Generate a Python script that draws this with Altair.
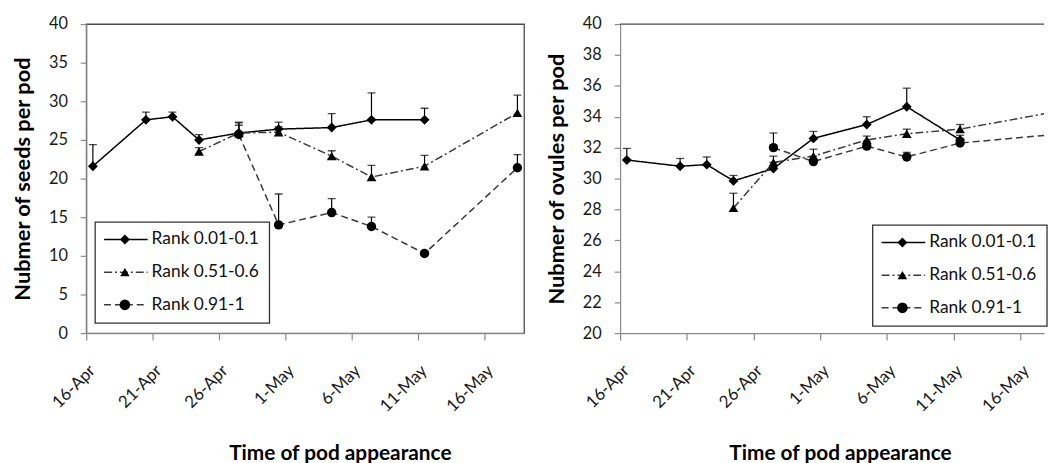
import json
import pandas as pd
import altair as alt

FONT = "Lato"

# ---------------- data ----------------
series_names = ["Rank 0.01-0.1", "Rank 0.51-0.6", "Rank 0.91-1"]
series_shapes = ["diamond", "triangle-up", "circle"]

tick_days = [0, 5, 10, 15, 20, 25, 30]
tick_labels = ["16-Apr", "21-Apr", "26-Apr", "1-May", "6-May", "11-May", "16-May"]

# Number of seeds per pod (days after 16-Apr)
seed_days_1 = [0.5, 4.5, 6.5, 8.5, 11.5, 14.5, 18.5, 21.5, 25.5]
seed_mean_1 = [21.6, 27.6, 28.0, 25.0, 25.9, 26.4, 26.6, 27.6, 27.6]
seed_err_1 = [2.8, 1.0, 0.6, 0.7, 1.4, 0.9, 1.8, 3.5, 1.5]
seed_days_2 = [8.5, 11.5, 14.5, 18.5, 21.5, 25.5, 32.5]
seed_mean_2 = [23.5, 25.9, 26.0, 22.9, 20.2, 21.6, 28.5]
seed_err_2 = [0.5, 1.0, 0.7, 0.7, 1.5, 1.4, 2.3]
seed_days_3 = [11.5, 14.5, 18.5, 21.5, 25.5, 32.5]
seed_mean_3 = [25.7, 14.0, 15.6, 13.8, 10.3, 21.4]
seed_err_3 = [1.5, 4.0, 1.8, 1.2, 0.3, 1.7]

# Number of ovules per pod
ovule_days_1 = [0.5, 4.5, 6.5, 8.5, 11.5, 14.5, 18.5, 21.5, 25.5]
ovule_mean_1 = [31.2, 30.8, 30.9, 29.85, 30.65, 32.6, 33.5, 34.65, 32.5]
ovule_err_1 = [0.75, 0.5, 0.5, 0.35, 0.4, 0.45, 0.5, 1.2, 0.3]
ovule_days_2 = [8.5, 11.5, 14.5, 18.5, 21.5, 25.5, 32.5]
ovule_mean_2 = [28.1, 31.05, 31.45, 32.5, 32.9, 33.2, 34.3]
ovule_err_2 = [0.95, 0.4, 0.45, 0.25, 0.3, 0.3, 0.5]
ovule_days_3 = [11.5, 14.5, 18.5, 21.5, 25.5, 32.5]
ovule_mean_3 = [32.0, 31.1, 32.1, 31.4, 32.3, 32.85]
ovule_err_3 = [0.95, 0.35, 0.3, 0.3, 0.3, 0.4]

seed_y_ticks = [0, 5, 10, 15, 20, 25, 30, 35, 40]
ovule_y_ticks = [20, 22, 24, 26, 28, 30, 32, 34, 36, 38, 40]

# ---------------- styles ----------------
DASHES = [[1, 0], [8, 3, 2, 3], [7, 4]]
LINE_COLORS = ["#000000", "#3a3a3a", "#3a3a3a"]
SIZES = [100, 90, 115]
AXIS_GRAY = "#8a8a8a"
FRAME = "#4a4a4a"


def build_df(days_list, mean_list, err_list):
    frames = []
    for name, d, m, e in zip(series_names, days_list, mean_list, err_list):
        f = pd.DataFrame({"day": d, "value": m, "err": e})
        f["series"] = name
        frames.append(f)
    df = pd.concat(frames, ignore_index=True)
    df["top"] = df["value"] + df["err"]
    return df


seed_df = build_df([seed_days_1, seed_days_2, seed_days_3],
                   [seed_mean_1, seed_mean_2, seed_mean_3],
                   [seed_err_1, seed_err_2, seed_err_3])
ovule_df = build_df([ovule_days_1, ovule_days_2, ovule_days_3],
                    [ovule_mean_1, ovule_mean_2, ovule_mean_3],
                    [ovule_err_1, ovule_err_2, ovule_err_3])

label_expr = "{}[indexof({}, datum.value)]".format(json.dumps(tick_labels), json.dumps(tick_days))


def panel(df, ydomain, yticks, ytitle, width, height, xmax, title_x, lg_left, lg_top, framed):
    xaxis = alt.Axis(values=tick_days, labelExpr=label_expr, labelAngle=315,
                     labelAlign="right", labelBaseline="middle", labelOffset=6,
                     labelPadding=28, tickSize=7, grid=False, labelFontSize=17,
                     title="Time of pod appearance", titleX=title_x, titlePadding=29)
    yaxis = alt.Axis(values=yticks, tickSize=6, labelPadding=13, grid=False,
                     title=ytitle, titlePadding=14)
    xs = alt.Scale(domain=[0, xmax], nice=False, zero=False)
    ys = alt.Scale(domain=ydomain, nice=False, zero=False)
    X = alt.X("day:Q", scale=xs, axis=xaxis)

    base = alt.Chart(df)
    lines = base.mark_line(strokeWidth=1.5, clip=True).encode(
        x=X,
        y=alt.Y("value:Q", scale=ys, axis=yaxis),
        strokeDash=alt.StrokeDash("series:N", scale=alt.Scale(domain=series_names, range=DASHES), legend=None),
        color=alt.Color("series:N", scale=alt.Scale(domain=series_names, range=LINE_COLORS), legend=None),
    )
    bars = base.mark_rule(color="#000000", strokeWidth=1.2, clip=True).encode(
        x=X, y=alt.Y("value:Q", scale=ys, axis=yaxis), y2="top:Q")
    caps = base.mark_tick(color="#000000", orient="horizontal", size=8, thickness=1.3, clip=True).encode(
        x=X, y=alt.Y("top:Q", scale=ys, axis=yaxis))
    pts = base.mark_point(filled=True, opacity=1, clip=True, color="#000000").encode(
        x=X, y=alt.Y("value:Q", scale=ys, axis=yaxis),
        shape=alt.Shape("series:N", scale=alt.Scale(domain=series_names, range=series_shapes), legend=None),
        size=alt.Size("series:N", scale=alt.Scale(domain=series_names, range=SIZES), legend=None),
    )
    layers = [lines, bars, caps, pts]

    # legend (drawn by hand, Excel style)
    box = alt.Chart(pd.DataFrame({"name": ["box"]})).mark_rect(
        fill="white", stroke="#333333", strokeWidth=1.3).encode(
        x=alt.value(lg_left), x2=alt.value(lg_left + 176),
        y=alt.value(lg_top), y2=alt.value(lg_top + 102))
    layers.append(box)
    for i, name in enumerate(series_names):
        one = alt.Chart(pd.DataFrame({"name": [name]}))
        yy = lg_top + 17.5 + i * 33
        layers.append(one.mark_rule(strokeDash=DASHES[i], color=LINE_COLORS[i], strokeWidth=1.5).encode(
            x=alt.value(lg_left + 9), x2=alt.value(lg_left + 53), y=alt.value(yy)))
        layers.append(one.mark_point(shape=series_shapes[i], filled=True, opacity=1, color="#000000",
                                     size=SIZES[i]).encode(x=alt.value(lg_left + 30), y=alt.value(yy)))
        layers.append(one.mark_text(align="left", baseline="middle", font=FONT, fontSize=17.5,
                                    color="#111111").encode(
            x=alt.value(lg_left + 57), y=alt.value(yy), text="name:N"))

    if framed:
        view = alt.ViewBackground(stroke=FRAME, strokeWidth=1.3)
    else:
        view = alt.ViewBackground(stroke="transparent")
        layers.append(alt.Chart(pd.DataFrame({"name": ["top"]})).mark_rule(color=FRAME, strokeWidth=1.3).encode(
            x=alt.value(0), x2=alt.value(width), y=alt.value(0)))

    return alt.layer(*layers).properties(width=width, height=height, view=view)


left = panel(seed_df, [0, 40], seed_y_ticks, "Nubmer of seeds per pod",
             442, 312, 33, 256, 9, 200, True)
right = panel(ovule_df, [20, 40], ovule_y_ticks, "Nubmer of ovules per pod",
              428, 312, 428 / 13.46, 222, 255, 203, False)

chart = alt.hconcat(left, right, spacing=20).properties(
    padding={"left": 3, "top": 5, "right": 0, "bottom": 0}
).configure_axis(
    labelFont=FONT, labelFontSize=16.5, labelColor="#1a1a1a",
    titleFont=FONT, titleFontSize=22, titleFontWeight="bold", titleColor="#000000",
    domainColor=AXIS_GRAY, tickColor=AXIS_GRAY, domainWidth=1.2, tickWidth=1.2,
).configure_axisX(titleFontSize=21)

chart.save("out.html", embed_options={"renderer": "svg", "actions": False})
